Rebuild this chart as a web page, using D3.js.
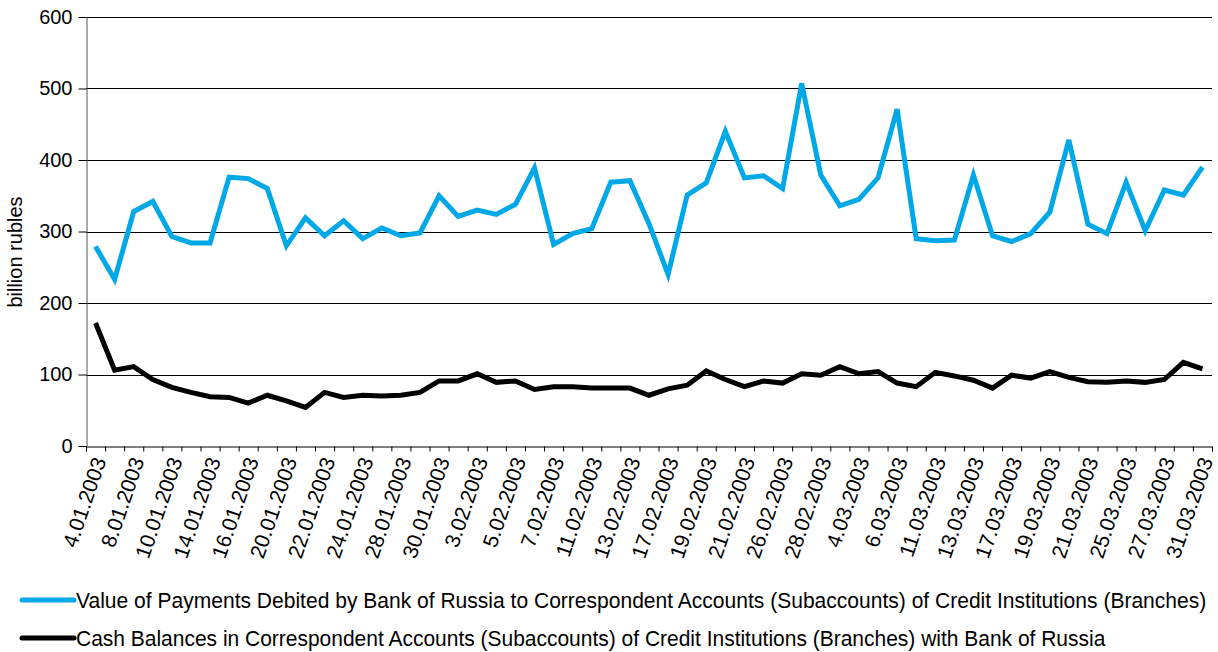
<!DOCTYPE html>
<html>
<head>
<meta charset="utf-8">
<script src="https://cdn.jsdelivr.net/npm/d3@7"></script>
<style>
  html, body { margin: 0; padding: 0; background: #fff; }
  svg { display: block; font-family: "Liberation Sans", Arial, Helvetica, sans-serif; }
</style>
</head>
<body>
<svg id="chart" width="1218" height="652"></svg>
<script>
const categories = [
  "4.01.2003","6.01.2003","8.01.2003","9.01.2003","10.01.2003","13.01.2003","14.01.2003","15.01.2003",
  "16.01.2003","17.01.2003","20.01.2003","21.01.2003","22.01.2003","23.01.2003","24.01.2003","27.01.2003",
  "28.01.2003","29.01.2003","30.01.2003","31.01.2003","3.02.2003","4.02.2003","5.02.2003","6.02.2003",
  "7.02.2003","10.02.2003","11.02.2003","12.02.2003","13.02.2003","14.02.2003","17.02.2003","18.02.2003",
  "19.02.2003","20.02.2003","21.02.2003","25.02.2003","26.02.2003","27.02.2003","28.02.2003","3.03.2003",
  "4.03.2003","5.03.2003","6.03.2003","7.03.2003","11.03.2003","12.03.2003","13.03.2003","14.03.2003",
  "17.03.2003","18.03.2003","19.03.2003","20.03.2003","21.03.2003","24.03.2003","25.03.2003","26.03.2003",
  "27.03.2003","28.03.2003","31.03.2003"
];
const payments = [279,233,328,342,293,284,284,376,374,360,280,319,294,315,290,
  305,294,298,350,321,330,324,338,389,282,297,304,369,371,311,
  240,351,368,440,375,378,360,507,379,336,345,375,471,290,287,
  288,379,294,286,297,327,428,310,297,369,301,358,351,390];
const balances = [172,106,111,93,82,75,69,68,60,71,63,54,75,68,71,
  70,71,75,91,91,101,89,91,79,83,83,81,81,81,71,
  80,85,105,93,83,91,88,101,99,111,101,104,88,83,103,
  98,92,81,99,95,104,96,90,89,91,89,93,117,108];
const yTicks = [0,100,200,300,400,500,600];
const seriesNames = [
  "Value of Payments Debited  by Bank of Russia to Correspondent Accounts (Subaccounts) of Credit Institutions (Branches)",
  "Cash Balances in Correspondent Accounts (Subaccounts) of Credit Institutions (Branches) with Bank of Russia"
];
const seriesColors = ["#00a8e8", "#000000"];
const yTitle = "billion rubles";

const svg = d3.select("#chart");
const L = 86, R = 1212, T = 17, B = 446;

const x = d3.scaleBand().domain(categories).range([L, R]).padding(0);
const xIdx = d3.scaleLinear().domain([0, categories.length]).range([L, R]);
const y = d3.scaleLinear().domain([0, 600]).range([B, T]);

// gridlines
svg.append("g").selectAll("line").data(yTicks.filter(d => d > 0)).join("line")
  .attr("x1", L).attr("x2", R)
  .attr("y1", d => Math.round(y(d)) + 0.5).attr("y2", d => Math.round(y(d)) + 0.5)
  .attr("stroke", "#000").attr("stroke-width", 1);

// y axis
const yAxis = svg.append("g").attr("transform", `translate(${L + 0.5},0)`)
  .call(d3.axisLeft(y).tickValues(yTicks).tickSize(8).tickPadding(6).tickFormat(d3.format("d")));
yAxis.select(".domain").attr("stroke", "#555");
yAxis.selectAll(".tick line").attr("stroke", "#000");
yAxis.selectAll(".tick text").attr("font-size", 20).attr("fill", "#000")
  .attr("font-family", "Liberation Sans, Arial, sans-serif");

// x axis: boundary ticks
const xTickAxis = svg.append("g").attr("transform", `translate(0,${Math.round(B) + 0.5})`)
  .call(d3.axisBottom(xIdx).tickValues(d3.range(categories.length + 1)).tickSize(5).tickFormat(""));
xTickAxis.select(".domain").attr("stroke", "#000");
xTickAxis.selectAll(".tick line").attr("stroke", "#000");

// x axis labels (every other category)
const xLabAxis = svg.append("g").attr("transform", `translate(0,${B})`)
  .call(d3.axisBottom(x).tickSize(0).tickFormat((d, i) => i % 2 === 0 ? d : ""));
xLabAxis.select(".domain").remove();
xLabAxis.selectAll(".tick text")
  .attr("font-size", 21).attr("fill", "#000")
  .attr("font-family", "Liberation Sans, Arial, sans-serif")
  .attr("text-anchor", "end")
  .attr("dy", "0.35em")
  .attr("transform", "translate(4,12) rotate(-71)")
  .attr("x", 0).attr("y", 0);

// y title
svg.append("text")
  .attr("transform", `translate(22,${252}) rotate(-90)`)
  .attr("text-anchor", "middle")
  .attr("font-size", 20)
  .attr("fill", "#000")
  .text(yTitle);

// lines
const line = d3.line()
  .x((d, i) => x(categories[i]) + x.bandwidth() / 2)
  .y(d => y(d));

[payments, balances].forEach((vals, k) => {
  svg.append("path").datum(vals)
    .attr("d", line)
    .attr("fill", "none")
    .attr("stroke", seriesColors[k])
    .attr("stroke-width", 5)
    .attr("stroke-linejoin", "miter");
});

// legend (condensed text via horizontal scale)
const legY = [600, 638];
const legW = [1131, 1030];
seriesNames.forEach((name, k) => {
  const g = svg.append("g");
  g.append("line").attr("x1", 22).attr("x2", 74)
    .attr("y1", legY[k]).attr("y2", legY[k])
    .attr("stroke", seriesColors[k]).attr("stroke-width", 5)
    .attr("stroke-linecap", "round");
  const t = g.append("text").attr("x", 0).attr("y", 0)
    .attr("font-size", 22).attr("fill", "#000")
    .text(name);
  const natural = t.node().getComputedTextLength();
  const s = natural > 0 ? legW[k] / natural : 1;
  t.attr("transform", `translate(76,${legY[k] + 8}) scale(${s},1)`);
});
</script>
</body>
</html>
